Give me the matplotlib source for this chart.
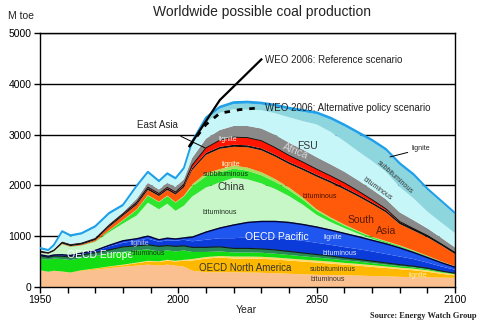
import numpy as np
import matplotlib
matplotlib.use("Agg")
import matplotlib.pyplot as plt

plt.rcParams['font.family'] = ['Liberation Sans', 'DejaVu Sans']

# ------------------------------------------------------------
# Data (M toe), one array per stacked layer
# ------------------------------------------------------------
years = [1950, 1953, 1955, 1958, 1961, 1965, 1970, 1975, 1980, 1985, 1989,
         1993, 1996, 1999, 2002, 2005, 2010, 2015, 2020, 2025, 2030, 2035,
         2040, 2045, 2050, 2055, 2060, 2065, 2070, 2075, 2080, 2085, 2090,
         2095, 2100]

na_bit = [330, 300, 320, 300, 280, 320, 340, 370, 400, 420, 440, 420, 440, 420, 400,
          320, 290, 290, 290, 285, 280, 270, 260, 250, 240, 235, 230, 225, 215, 210,
          200, 195, 190, 185, 180]
na_sub = [0, 0, 0, 5, 5, 10, 20, 30, 30, 50, 60, 70, 80, 80, 120,
          200, 270, 290, 270, 275, 275, 270, 260, 250, 240, 225, 210, 195, 180, 165,
          150, 135, 110, 75, 50]
na_lig = [0, 0, 0, 0, 0, 0, 5, 5, 10, 10, 15, 15, 15, 15, 15,
          30, 30, 30, 40, 40, 40, 40, 40, 40, 40, 40, 35, 35, 35, 30,
          30, 30, 30, 25, 20]
eu_bit = [230, 235, 240, 245, 245, 240, 245, 255, 250, 240, 225, 195, 185, 185, 185,
          140, 100, 90, 80, 80, 80, 75, 70, 65, 60, 55, 50, 45, 40, 35,
          30, 25, 20, 15, 10]
eu_lig = [55, 50, 50, 55, 60, 60, 65, 70, 100, 90, 90, 100, 95, 100, 90,
          90, 90, 90, 80, 80, 75, 75, 70, 65, 60, 55, 50, 45, 40, 35,
          30, 25, 20, 15, 10]
pac_bit = [10, 10, 10, 15, 15, 20, 30, 70, 80, 100, 120, 90, 105, 110, 120,
           120, 150, 170, 200, 220, 230, 240, 240, 240, 230, 220, 210, 200, 190, 175,
           160, 140, 110, 90, 70]
pac_lig = [10, 10, 10, 15, 15, 15, 15, 20, 40, 40, 50, 40, 40, 35, 35,
           80, 150, 200, 260, 290, 310, 320, 330, 320, 310, 290, 270, 245, 220, 200,
           170, 130, 100, 75, 50]
other = [10, 10, 10, 15, 15, 15, 15, 15, 15, 15, 15, 15, 15, 15, 15,
         20, 20, 20, 20, 20, 20, 20, 20, 20, 20, 20, 20, 20, 20, 20,
         20, 15, 15, 10, 10]
ch_bit = [30, 35, 60, 190, 155, 135, 155, 245, 325, 445, 645, 585, 665, 540, 620,
          780, 860, 880, 910, 830, 730, 620, 500, 370, 220, 140, 85, 40, 10, 0,
          0, 0, 0, 0, 0]
ch_sub = [0, 0, 0, 5, 5, 5, 10, 30, 60, 110, 140, 140, 150, 160, 180,
          200, 220, 200, 180, 170, 160, 140, 120, 100, 80, 65, 50, 40, 30, 25,
          20, 15, 15, 10, 5]
ch_lig = [0, 0, 0, 0, 0, 0, 0, 5, 10, 10, 10, 10, 10, 10, 15,
          40, 60, 60, 60, 60, 60, 55, 50, 40, 30, 25, 20, 15, 10, 10,
          10, 10, 5, 5, 5]
sa_bit = [5, 5, 5, 10, 10, 15, 25, 65, 80, 90, 100, 110, 110, 150, 165,
          280, 360, 400, 370, 400, 430, 440, 460, 540, 640, 680, 690, 675, 640, 565,
          420, 390, 365, 315, 240]
east_asia = [25, 20, 20, 25, 25, 25, 25, 30, 30, 35, 40, 35, 35, 35, 40,
             40, 40, 40, 40, 40, 40, 40, 40, 40, 40, 40, 40, 40, 40, 40,
             40, 40, 35, 30, 30]
sa_lig = [0, 0, 0, 0, 0, 0, 0, 5, 10, 15, 15, 15, 15, 15, 20,
          60, 100, 130, 150, 150, 150, 140, 130, 120, 110, 100, 90, 70, 50, 30,
          10, 0, 0, 0, 0]
africa = [10, 10, 15, 20, 20, 20, 25, 30, 30, 70, 85, 80, 90, 100, 100,
          140, 180, 200, 220, 230, 240, 250, 250, 245, 235, 225, 220, 210, 200, 190,
          180, 165, 140, 120, 100]
fsu_bit = [30, 25, 65, 175, 145, 155, 195, 185, 120, 230, 190, 140, 160, 145, 190,
           250, 320, 340, 330, 320, 360, 425, 500, 560, 645, 640, 600, 570, 560, 540,
           500, 430, 330, 300, 280]
fsu_sub = [0, 0, 0, 0, 0, 0, 0, 0, 0, 0, 0, 0, 0, 0, 5,
           40, 60, 80, 100, 120, 110, 130, 150, 180, 200, 240, 290, 340, 380, 410,
           430, 440, 420, 400, 370]
fsu_lig = [25, 20, 25, 25, 25, 25, 30, 30, 30, 30, 30, 30, 30, 30, 30,
           40, 40, 40, 40, 40, 40, 40, 40, 40, 40, 40, 40, 40, 40, 40,
           40, 40, 35, 30, 30]

# WEO 2006 scenarios
weo_ref_years = [2004, 2015, 2030]
weo_ref = [2770, 3680, 4480]
weo_alt_years = [2004, 2010, 2015, 2022, 2030]
weo_alt = [2770, 3200, 3420, 3490, 3530]

layers = [na_bit, na_sub, na_lig, eu_bit, eu_lig, pac_bit, pac_lig, other,
          ch_bit, ch_sub, ch_lig, sa_bit, east_asia, sa_lig, africa,
          fsu_bit, fsu_sub, fsu_lig]
colors = ['#FAC08F', '#FFB800', '#FFD966', '#12DC12', '#2A8A55', '#0B3BD9',
          '#1F56F0', '#6CC644', '#C7F7C7', '#2EE62E', '#A6E05C', '#FF5A0A',
          '#111111', '#FF1500', '#8A8A8A', '#C6F6F8', '#8ED6DE', '#2BA9EC']

fig = plt.figure(figsize=(4.8, 3.26), dpi=100)
ax = fig.add_axes([40/480, 39/326, 415/480, 254/326])

ax.stackplot(years, layers, colors=colors, linewidth=0, zorder=2)

# dark boundary lines between some regions
cum = np.cumsum(np.array(layers, dtype=float), axis=0)
ax.plot(years, cum[4], color='#102010', lw=0.8, zorder=3)
ax.plot(years, cum[6], color='#000040', lw=1.0, zorder=3)
ax.plot(years, cum[13], color='black', lw=0.6, zorder=3)
ax.plot(years, cum[17], color='#1E9FE8', lw=1.3, zorder=3)

# scenario lines
ax.plot(weo_ref_years, weo_ref, color='black', lw=1.6, zorder=4)
ax.plot(weo_alt_years, weo_alt, color='black', lw=2.0, ls=(0, (2, 2.5)), zorder=4)

ax.set_xlim(1950, 2100)
ax.set_ylim(0, 5000)
ax.set_xticks(range(1950, 2101, 10))
ax.set_xticklabels([str(y) if y % 50 == 0 else '' for y in range(1950, 2101, 10)])
ax.set_yticks(range(0, 5001, 1000))
ax.tick_params(axis='both', labelsize=7.5, length=4, width=1, color='black', pad=2)
ax.yaxis.grid(True, color='black', lw=1)
ax.set_axisbelow(True)
for s in ax.spines.values():
    s.set_color('black')
    s.set_linewidth(1)

# titles and axis labels
fig.text(0.546, 0.963, 'Worldwide possible coal production', ha='center', va='center',
         fontsize=10, color='#222222')
fig.text(0.017, 0.951, 'M toe', ha='left', va='center', fontsize=7.5, color='#222222')
fig.text(0.5125, 0.049, 'Year', ha='center', va='center', fontsize=7.5, color='#222222')
fig.text(0.992, 0.031, 'Source: Energy Watch Group', ha='right', va='center',
         fontsize=6, fontweight='bold', family=['Liberation Serif', 'DejaVu Serif'],
         color='#222222')

ax.text(2031.3, 4470, 'WEO 2006: Reference scenario', fontsize=7, va='center',
        color='#222222')
ax.text(2031.3, 3525, 'WEO 2006: Alternative policy scenario', fontsize=7,
        va='center', color='#222222')
ax.annotate('East Asia', xy=(2009.6, 2740), xytext=(1992.3, 3190), fontsize=7,
            ha='center', va='center', color='#222222',
            arrowprops=dict(arrowstyle='-', color='black', lw=0.7,
                            shrinkA=6, shrinkB=0))
ax.annotate('lignite', xy=(2076.5, 2560), xytext=(2084.4, 2717), fontsize=5,
            ha='left', va='center', color='#222222',
            arrowprops=dict(arrowstyle='-', color='black', lw=0.7,
                            shrinkA=1, shrinkB=0))

small = dict(fontsize=5, ha='center', va='center')
big = dict(fontsize=7.5, ha='center', va='center')
ax.text(2046.5, 2776, 'FSU', color='#333333', **big)
ax.text(2078.3, 2165, 'subbituminous', rotation=-42, color='#333333', **small)
ax.text(2071.8, 1929, 'bituminous', rotation=-36, color='#333333', **small)
ax.text(2042.2, 2680, 'Africa', rotation=-22, color='#D8D8D8', **big)
ax.text(2018, 2894, 'lignite', color='#F0F0F0', **small)
ax.text(2019, 2402, 'lignite', color='#F4FFE0', **small)
ax.text(2017.2, 2205, 'subbituminous', color='#103010', **small)
ax.text(2019, 1969, 'China', color='#333333', **big)
ax.text(2015, 1476, 'bituminous', color='#203020', **small)
ax.text(2051.2, 1791, 'bituminous', color='#4A1000', **small)
ax.text(2066, 1319, 'South', color='#5A1A00', **big)
ax.text(2075, 1102, 'Asia', color='#5A1A00', **big)
ax.text(2035.7, 984, 'OECD Pacific', color='white', **big)
ax.text(2055.9, 984, 'lignite', color='#E0E8FF', **small)
ax.text(2058.4, 669, 'bituminous', color='#E0E8FF', **small)
ax.text(2024.1, 374, 'OECD North America', color='#333333', fontsize=7,
        ha='center', va='center')
ax.text(2055.9, 335, 'subbituminous', color='#333333', **small)
ax.text(2054.1, 138, 'bituminous', color='#333333', **small)
ax.text(2086.6, 217, 'lignite', color='#FFF0C0', **small)
ax.text(1971.7, 630, 'OECD Europe', color='white', **big)
ax.text(1986.1, 866, 'lignite', color='#C8C8D8', **small)
ax.text(1989, 669, 'bituminous', color='#203020', **small)

fig.savefig('out.png', dpi=100)
